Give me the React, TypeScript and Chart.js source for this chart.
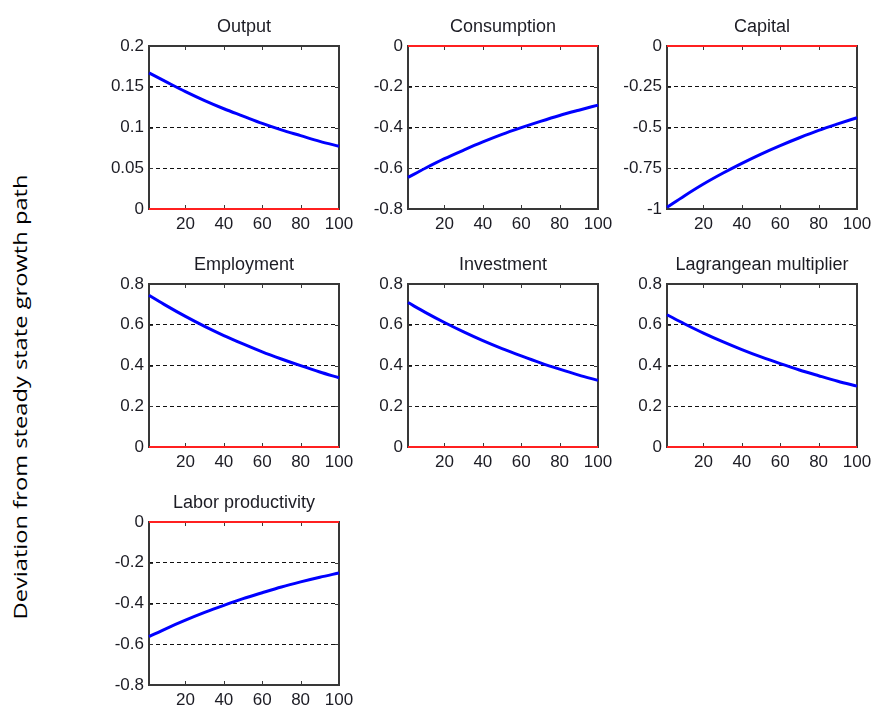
import React, { useEffect, useRef } from "react";
import { Chart, registerables } from "chart.js";

Chart.register(...registerables);

// Periods after the shock at which the responses are sampled
const periods = [1, 10, 20, 30, 40, 50, 60, 70, 80, 90, 100];
const xTicks = [20, 40, 60, 80, 100];

// Impulse responses (deviation from steady state growth path)
const output = [0.167, 0.156, 0.144, 0.133, 0.123, 0.114, 0.105, 0.097, 0.09, 0.083, 0.077];
const consumption = [-0.645, -0.6, -0.553, -0.511, -0.471, -0.434, -0.401, -0.37, -0.341, -0.315, -0.29];
const capital = [-0.99, -0.92, -0.847, -0.781, -0.72, -0.663, -0.611, -0.563, -0.518, -0.478, -0.44];
const employment = [0.745, 0.694, 0.641, 0.592, 0.547, 0.506, 0.467, 0.432, 0.399, 0.368, 0.34];
const investment = [0.709, 0.661, 0.611, 0.565, 0.522, 0.483, 0.447, 0.413, 0.382, 0.353, 0.327];
const lagrangean = [0.649, 0.605, 0.559, 0.517, 0.478, 0.442, 0.409, 0.378, 0.35, 0.323, 0.299];
const laborProductivity = [-0.563, -0.523, -0.482, -0.444, -0.409, -0.376, -0.347, -0.319, -0.294, -0.271, -0.25];

// Y-axis tick values for each panel
const outputTicks = [0, 0.05, 0.1, 0.15, 0.2];
const consumptionTicks = [-0.8, -0.6, -0.4, -0.2, 0];
const capitalTicks = [-1, -0.75, -0.5, -0.25, 0];
const positiveTicks = [0, 0.2, 0.4, 0.6, 0.8];
const productivityTicks = [-0.8, -0.6, -0.4, -0.2, 0];

type Panel = { title: string; values: number[]; ticks: number[]; col: number; row: number };

const panels: Panel[] = [
  { title: "Output", values: output, ticks: outputTicks, col: 0, row: 0 },
  { title: "Consumption", values: consumption, ticks: consumptionTicks, col: 1, row: 0 },
  { title: "Capital", values: capital, ticks: capitalTicks, col: 2, row: 0 },
  { title: "Employment", values: employment, ticks: positiveTicks, col: 0, row: 1 },
  { title: "Investment", values: investment, ticks: positiveTicks, col: 1, row: 1 },
  { title: "Lagrangean multiplier", values: lagrangean, ticks: positiveTicks, col: 2, row: 1 },
  { title: "Labor productivity", values: laborProductivity, ticks: productivityTicks, col: 0, row: 2 },
];

const COL_LEFT = [149, 408, 667];
const ROW_TOP = [46, 284, 522];
const PLOT_W = 190;
const PLOT_H = 163;
const PAD_LEFT = 70;
const PAD_TOP = 40;
const PAD_RIGHT = 24;
const PAD_BOTTOM = 30;

const TEXT_COLOR = "#1c1c24";
const FRAME_COLOR = "#383838";
const FONT_FAMILY = '"Liberation Sans", Arial, sans-serif';

function PanelChart({ panel }: { panel: Panel }) {
  const ref = useRef<HTMLCanvasElement | null>(null);
  const width = PAD_LEFT + PLOT_W + PAD_RIGHT;
  const height = PAD_TOP + PLOT_H + PAD_BOTTOM;

  useEffect(() => {
    if (!ref.current) return;
    const yTicks = panel.ticks;

    // Box around the axes with small inward tick marks, plus the panel title
    const framePlugin = {
      id: "frame",
      beforeDatasetsDraw(chart: any) {
        const { ctx, chartArea } = chart;
        const left = Math.round(chartArea.left);
        const right = Math.round(chartArea.right);
        const top = Math.round(chartArea.top);
        const bottom = Math.round(chartArea.bottom);
        const xs = chart.scales.x;
        const ys = chart.scales.y;
        ctx.save();
        ctx.setLineDash([]);
        ctx.strokeStyle = FRAME_COLOR;
        ctx.lineWidth = 1;
        ctx.beginPath();
        for (const v of xTicks) {
          const px = Math.round(xs.getPixelForValue(v)) + 0.5;
          ctx.moveTo(px, top);
          ctx.lineTo(px, top + 4);
          ctx.moveTo(px, bottom);
          ctx.lineTo(px, bottom - 4);
        }
        for (const v of yTicks) {
          const py = Math.round(ys.getPixelForValue(v)) + 0.5;
          ctx.moveTo(left, py);
          ctx.lineTo(left + 4, py);
          ctx.moveTo(right, py);
          ctx.lineTo(right - 4, py);
        }
        ctx.stroke();
        ctx.lineWidth = 2;
        ctx.strokeRect(left, top, right - left, bottom - top);
        ctx.restore();
      },
      afterDraw(chart: any) {
        const { ctx, chartArea } = chart;
        ctx.save();
        ctx.fillStyle = TEXT_COLOR;
        ctx.font = `18px ${FONT_FAMILY}`;
        ctx.textAlign = "center";
        ctx.textBaseline = "alphabetic";
        ctx.fillText(panel.title, (chartArea.left + chartArea.right) / 2, chartArea.top - 14);
        ctx.restore();
      },
    };

    const chart = new Chart(ref.current, {
      type: "line",
      data: {
        datasets: [
          {
            data: periods.map((p, i) => ({ x: p, y: panel.values[i] })),
            borderColor: "#0000ff",
            borderWidth: 3,
            pointRadius: 0,
            cubicInterpolationMode: "monotone",
            clip: 3,
          },
          {
            data: [
              { x: periods[0], y: 0 },
              { x: periods[periods.length - 1], y: 0 },
            ],
            borderColor: "#ff2020",
            borderWidth: 2,
            pointRadius: 0,
            clip: 3,
          },
        ],
      },
      options: {
        responsive: false,
        animation: false,
        events: [],
        layout: { padding: { left: 0, top: PAD_TOP, right: PAD_RIGHT, bottom: 0 } },
        plugins: { legend: { display: false }, tooltip: { enabled: false }, title: { display: false } },
        scales: {
          x: {
            type: "linear",
            min: periods[0],
            max: periods[periods.length - 1],
            offset: false,
            afterBuildTicks: (s: any) => {
              s.ticks = xTicks.map((v) => ({ value: v }));
            },
            afterFit: (s: any) => {
              s.height = PAD_BOTTOM;
            },
            grid: { display: false, drawTicks: false },
            border: { display: false },
            ticks: {
              padding: 5,
              color: TEXT_COLOR,
              font: { family: FONT_FAMILY, size: 17 },
              maxRotation: 0,
              autoSkip: false,
            },
          },
          y: {
            type: "linear",
            min: yTicks[0],
            max: yTicks[yTicks.length - 1],
            afterBuildTicks: (s: any) => {
              s.ticks = yTicks.map((v) => ({ value: v }));
            },
            afterFit: (s: any) => {
              s.width = PAD_LEFT;
            },
            grid: { color: "#111111", lineWidth: 1, drawTicks: false },
            border: { display: false, dash: [4, 3] },
            ticks: {
              padding: 5,
              color: TEXT_COLOR,
              font: { family: FONT_FAMILY, size: 17 },
              autoSkip: false,
              callback: (v: any) => String(Number(v)),
            },
          },
        },
      },
      plugins: [framePlugin],
    } as any);

    return () => chart.destroy();
  }, [panel]);

  return (
    <div
      style={{
        position: "absolute",
        left: COL_LEFT[panel.col] - PAD_LEFT,
        top: ROW_TOP[panel.row] - PAD_TOP,
        width,
        height,
      }}
    >
      <canvas ref={ref} width={width} height={height} style={{ width, height, display: "block" }} />
    </div>
  );
}

export default function App() {
  return (
    <div style={{ position: "absolute", left: 0, top: 0, width: 876, height: 709, background: "#ffffff", overflow: "hidden" }}>
      <div
        style={{
          position: "absolute",
          left: 19.5,
          top: 397,
          transform: "translate(-50%, -50%) rotate(-90deg) scaleX(1.28)",
          whiteSpace: "nowrap",
          fontFamily: '"Open Sans", sans-serif',
          fontSize: 18.5,
          lineHeight: "18.5px",
          color: "#000000",
        }}
      >
        Deviation from steady state growth path
      </div>
      {panels.map((p) => (
        <PanelChart key={p.title} panel={p} />
      ))}
    </div>
  );
}
